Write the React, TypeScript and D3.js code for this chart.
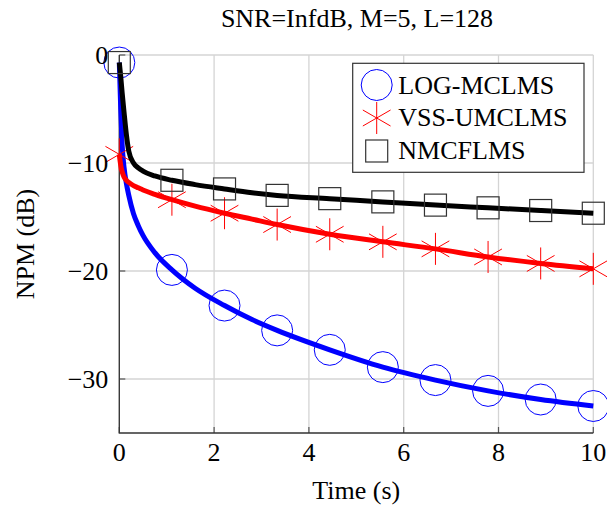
import * as d3 from "d3";

// samples (s) and NPM (dB)
const time = [0, 0.03, 0.06, 0.1, 0.15, 0.2, 0.3, 0.4, 0.5, 0.75, 1.11, 1.6, 2.22, 2.8, 3.33, 4.44, 5.56, 6.67, 7.78, 8.89, 10];
const logMclms = [-0.7, -5.0, -8.3, -10.4, -11.9, -13.0, -14.7, -15.8, -16.7, -18.3, -19.9, -21.6, -23.2, -24.5, -25.5, -27.3, -28.9, -30.1, -31.1, -31.9, -32.5];
const vssUmclms = [-9.2, -10.2, -10.8, -11.3, -11.6, -11.8, -12.1, -12.3, -12.5, -12.9, -13.4, -14.0, -14.65, -15.2, -15.7, -16.6, -17.3, -17.95, -18.7, -19.3, -19.8];
const nmcflms = [-0.7, -2.0, -3.5, -5.3, -7.4, -8.9, -10.0, -10.45, -10.75, -11.2, -11.6, -12.0, -12.4, -12.75, -13.0, -13.3, -13.6, -13.9, -14.15, -14.4, -14.65];
const markIdx = [0, 10, 12, 14, 15, 16, 17, 18, 19, 20];

const xTicks = [0, 2, 4, 6, 8, 10];
const yTicks = [0, -10, -20, -30];
const names = ["LOG-MCLMS", "VSS-UMCLMS", "NMCFLMS"];

const W = 607, H = 508;
const left = 119.3, right = 593.3, top = 55, bottom = 433;
const font = "'Liberation Serif', 'Times New Roman', serif";

const x = d3.scaleLinear().domain([0, 10]).range([left, right]);
const y = d3.scaleLinear().domain([-35, 0]).range([bottom, top]);

function Mark({ kind, cx, cy }: { kind: string; cx: number; cy: number }) {
  if (kind === "circle") return <circle cx={cx} cy={cy} r={15.5} fill="none" stroke="#0000ff" strokeWidth={1} />;
  if (kind === "square") return <rect x={cx - 11} y={cy - 11} width={22} height={22} fill="none" stroke="#333" strokeWidth={1.2} />;
  const r = 16;
  return (
    <g stroke="#ff0000" strokeWidth={1}>
      {[90, 30, 150].map(a => {
        const dx = r * Math.cos((a * Math.PI) / 180), dy = r * Math.sin((a * Math.PI) / 180);
        return <line key={a} x1={cx - dx} y1={cy - dy} x2={cx + dx} y2={cy + dy} />;
      })}
    </g>
  );
}

export default function App() {
  const series = [
    { vals: logMclms, color: "#0000ff", mark: "circle" },
    { vals: vssUmclms, color: "#ff0000", mark: "asterisk" },
    { vals: nmcflms, color: "#000000", mark: "square" },
  ];
  const line = d3.line<number>().x((_, i) => x(time[i])).y(d => y(d)).curve(d3.curveMonotoneX);

  return (
    <svg width={W} height={H} style={{ position: "absolute", left: 0, top: 0 }} fontFamily={font}>
      <rect width={W} height={H} fill="white" />
      {/* grid */}
      <g stroke="#d4d4d4" strokeWidth={1.3}>
        {xTicks.map(t => <line key={"gx" + t} x1={x(t)} x2={x(t)} y1={top} y2={bottom} />)}
        {yTicks.map(t => <line key={"gy" + t} x1={left} x2={right} y1={y(t)} y2={y(t)} />)}
      </g>
      {/* ticks */}
      <g stroke="#555" strokeWidth={1.2}>
        {xTicks.map(t => <line key={"tx" + t} x1={x(t)} x2={x(t)} y1={bottom} y2={bottom - 6} />)}
        {yTicks.map(t => <line key={"ty" + t} x1={left} x2={left + 6} y1={y(t)} y2={y(t)} />)}
      </g>
      <path d={`M${left},${top}V${bottom}H${right}`} fill="none" stroke="#333" strokeWidth={1.3} />

      {series.map(s => (
        <g key={s.mark}>
          <path d={line(s.vals) ?? ""} fill="none" stroke={s.color} strokeWidth={5} strokeLinejoin="round" />
          {markIdx.map(i => <Mark key={i} kind={s.mark} cx={x(time[i])} cy={y(s.vals[i])} />)}
        </g>
      ))}

      {/* tick labels */}
      <g fontSize={26} fill="#000">
        {xTicks.map(t => (
          <text key={"lx" + t} x={x(t)} y={bottom + 28} textAnchor="middle">{t}</text>
        ))}
        {yTicks.map(t => (
          <text key={"ly" + t} x={left - 11} y={y(t) + 9} textAnchor="end">{t < 0 ? "\u2212" + Math.abs(t) : t}</text>
        ))}
      </g>

      <text x={357} y={26.7} fontSize={26} textAnchor="middle">SNR=InfdB, M=5, L=128</text>
      <text x={(left + right) / 2} y={499} fontSize={26} textAnchor="middle">Time (s)</text>
      <text transform={`translate(34,${(top + bottom) / 2}) rotate(-90)`} fontSize={26} textAnchor="middle">NPM (dB)</text>

      {/* legend */}
      <g>
        <rect x={352.7} y={63.3} width={231.3} height={109} fill="white" stroke="#333" strokeWidth={1.2} />
        {series.map((s, i) => (
          <g key={"lg" + i}>
            <Mark kind={s.mark} cx={376.7} cy={85 + i * 33} />
            <text x={398.3} y={93.8 + i * 32.5} fontSize={26}>{names[i]}</text>
          </g>
        ))}
      </g>
    </svg>
  );
}
